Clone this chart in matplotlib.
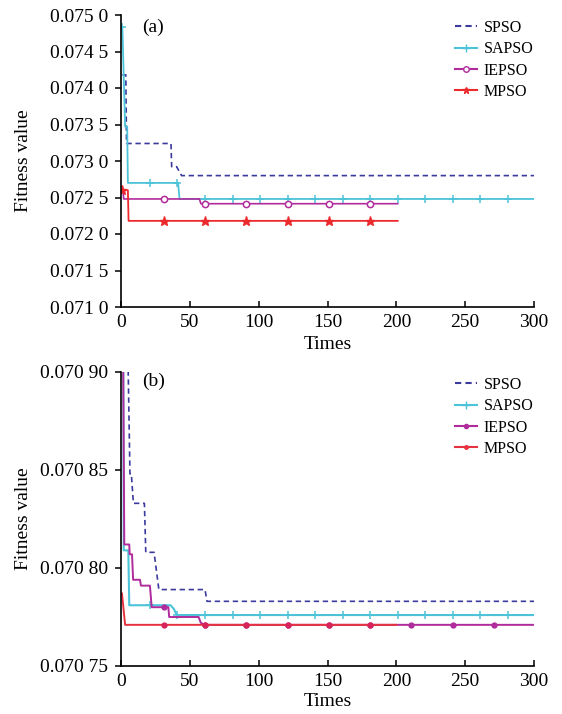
import numpy as np
import matplotlib
matplotlib.use("Agg")
import matplotlib.pyplot as plt
from matplotlib.lines import Line2D

plt.rcParams["font.family"] = ["Liberation Serif", "DejaVu Serif"]

names = ["SPSO", "SAPSO", "IEPSO", "MPSO"]

# ---- panel (a): curve vertices (iteration, fitness) ----
spso_a_x = [1, 3.5, 4, 36.3, 36.8, 40.4, 44, 300]
spso_a_y = [0.07418, 0.07418, 0.07324, 0.07324, 0.072922, 0.072922, 0.07280, 0.07280]
sapso_a_x = [1, 3, 4.5, 5, 41.5, 42.5, 300]
sapso_a_y = [0.07483, 0.07347, 0.07347, 0.07270, 0.07270, 0.07248, 0.07248]
iepso_a_x = [0, 1.5, 2, 57, 58, 201]
iepso_a_y = [0.07258, 0.07258, 0.07248, 0.07248, 0.072415, 0.072415]
mpso_a_x = [0, 5, 5.5, 201]
mpso_a_y = [0.07261, 0.07260, 0.07218, 0.07218]

# ---- panel (b) ----
spso_b_x = [5, 6.5, 7.5, 9, 17, 18, 24, 27.5, 61, 62.5, 300]
spso_b_y = [0.070910, 0.070848, 0.070848, 0.070833, 0.070833, 0.070808,
            0.070808, 0.070789, 0.070789, 0.070783, 0.070783]
sapso_b_x = [1.5, 2, 5.3, 6, 36, 38.5, 40.5, 300]
sapso_b_y = [0.07095, 0.070809, 0.070809, 0.070781, 0.070781, 0.070779, 0.070776, 0.070776]
iepso_b_x = [1.2, 2.4, 6, 6.3, 8, 8.8, 13.8, 14.5, 21, 22.3, 34.4, 35, 56.4, 58, 61, 300]
iepso_b_y = [0.07095, 0.070812, 0.070812, 0.070807, 0.070807, 0.070794, 0.070794,
             0.070791, 0.070791, 0.070780, 0.070780, 0.070775, 0.070775,
             0.070772, 0.070771, 0.070771]
mpso_b_x = [0.7, 3, 200]
mpso_b_y = [0.070787, 0.070771, 0.070771]

# marker iterations
sapso_marks = [1, 21, 41, 61, 81, 101, 121, 141, 161, 181, 201, 221, 241, 261, 281]
iepso_a_marks = [31, 61, 91, 121, 151, 181]
mpso_a_marks = [1, 31, 61, 91, 121, 151, 181]
iepso_b_marks = [31, 61, 91, 121, 151, 181, 211, 241, 271]
mpso_b_marks = [31, 61, 91, 121, 151, 181]

xticks = [0, 50, 100, 150, 200, 250, 300]
ya_ticks = [0.0710, 0.0715, 0.0720, 0.0725, 0.0730, 0.0735, 0.0740, 0.0745, 0.0750]
ya_labels = ["0.071 0", "0.071 5", "0.072 0", "0.072 5", "0.073 0",
             "0.073 5", "0.074 0", "0.074 5", "0.075 0"]
yb_ticks = [0.07075, 0.07080, 0.07085, 0.07090]
yb_labels = ["0.070 75", "0.070 80", "0.070 85", "0.070 90"]

c_spso = "#3b3b9e"
c_sapso = "#4cc3d8"
c_iepso = "#b02b9c"
c_mpso = "#ec2a2e"
c_mpso_b = "#e6323e"

fig = plt.figure(figsize=(5.62, 7.14), dpi=100)
ax_a = fig.add_axes([121 / 562, 1 - 307 / 714, 413 / 562, 292 / 714])
ax_b = fig.add_axes([121 / 562, 1 - 666 / 714, 413 / 562, 294 / 714])


def marks(xs, ys, mx):
    return mx, np.interp(mx, xs, ys)


# panel (a)
ax_a.plot(spso_a_x, spso_a_y, color=c_spso, ls=(0, (3.2, 2.2)), lw=1.2)
ax_a.plot(sapso_a_x, sapso_a_y, color=c_sapso, lw=1.3)
ax_a.plot(*marks(sapso_a_x, sapso_a_y, sapso_marks), ls="none", marker="+",
          ms=6, mew=1.1, color=c_sapso)
ax_a.plot(iepso_a_x, iepso_a_y, color=c_iepso, lw=1.2)
ax_a.plot(*marks(iepso_a_x, iepso_a_y, iepso_a_marks), ls="none", marker="o",
          ms=4.5, mew=1.1, mfc="white", color=c_iepso)
ax_a.plot(mpso_a_x, mpso_a_y, color=c_mpso, lw=1.3)
ax_a.plot(*marks(mpso_a_x, mpso_a_y, mpso_a_marks), ls="none", marker="*",
          ms=6.5, color=c_mpso)
ax_a.set_ylim(0.0710, 0.0750)
ax_a.set_yticks(ya_ticks)
ax_a.set_yticklabels(ya_labels)

# panel (b)
ax_b.plot(spso_b_x, spso_b_y, color=c_spso, ls=(0, (3.2, 2.2)), lw=1.2)
ax_b.plot(sapso_b_x, sapso_b_y, color=c_sapso, lw=1.5)
ax_b.plot(*marks(sapso_b_x, sapso_b_y, sapso_marks), ls="none", marker="+",
          ms=6, mew=1.1, color=c_sapso)
ax_b.plot(iepso_b_x, iepso_b_y, color=c_iepso, lw=1.4)
ax_b.plot(*marks(iepso_b_x, iepso_b_y, iepso_b_marks), ls="none", marker="o",
          ms=3.5, color=c_iepso)
ax_b.plot(mpso_b_x, mpso_b_y, color=c_mpso_b, lw=1.4)
ax_b.plot(*marks(mpso_b_x, mpso_b_y, mpso_b_marks), ls="none", marker="o",
          ms=3.5, color="#d6245a")
ax_b.set_ylim(0.07075, 0.07090)
ax_b.set_yticks(yb_ticks)
ax_b.set_yticklabels(yb_labels)

for ax, tag, ty in [(ax_a, "(a)", 0.959), (ax_b, "(b)", 0.967)]:
    ax.set_xlim(0, 300)
    ax.set_xticks(xticks)
    for s in ["top", "right"]:
        ax.spines[s].set_visible(False)
    for s in ["left", "bottom"]:
        ax.spines[s].set_linewidth(1.2)
    ax.tick_params(axis="y", direction="out", length=4, width=1.1, pad=5, labelsize=14)
    ax.tick_params(axis="x", direction="in", length=4, width=1.1, pad=5, labelsize=14)
    ax.set_xlabel("Times", fontsize=14)
    ax.set_ylabel("Fitness value", fontsize=14)
    ax.yaxis.set_label_coords(-0.215, 0.5)
    ax.text(0.05, ty, tag, transform=ax.transAxes, fontsize=14, va="center")

ax_a.xaxis.set_label_coords(0.5, -0.098)
ax_b.xaxis.set_label_coords(0.5, -0.092)

# legends
h_a = [Line2D([], [], color=c_spso, ls=(0, (3, 2))),
       Line2D([], [], color=c_sapso, marker="+", ms=6),
       Line2D([], [], color=c_iepso, marker="o", ms=4, mfc="white"),
       Line2D([], [], color=c_mpso, marker="*", ms=5)]
h_b = [Line2D([], [], color=c_spso, ls=(0, (3, 2))),
       Line2D([], [], color=c_sapso, marker="+", ms=6),
       Line2D([], [], color=c_iepso, marker="o", ms=3),
       Line2D([], [], color=c_mpso_b, marker="o", ms=2.5)]
leg_kw = dict(frameon=False, fontsize=11.5, handlelength=1.35, handletextpad=0.45,
              labelspacing=0.33, borderpad=0, borderaxespad=0, loc="upper left")
fig.legend(h_a, names, bbox_to_anchor=(455 / 562, 1 - 20 / 714), **leg_kw)
fig.legend(h_b, names, bbox_to_anchor=(455 / 562, 1 - 377 / 714), **leg_kw)

fig.savefig("out.png", dpi=100, facecolor="white")
